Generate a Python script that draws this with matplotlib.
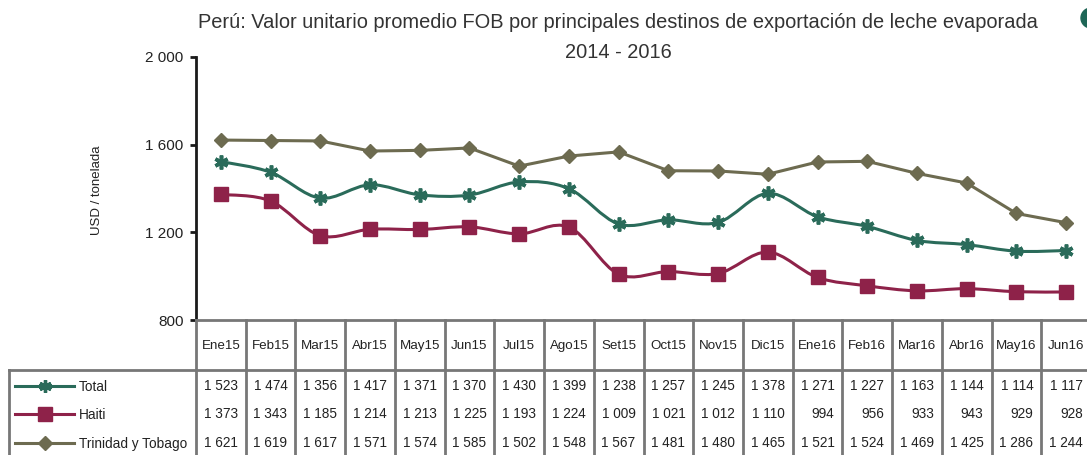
import matplotlib.pyplot as plt
from matplotlib.lines import Line2D
from matplotlib.path import Path
from matplotlib.patches import PathPatch, Ellipse
from matplotlib.transforms import blended_transform_factory

plt.rcParams["font.family"] = ["Liberation Sans", "DejaVu Sans"]

# Datos
meses = ["Ene15", "Feb15", "Mar15", "Abr15", "May15", "Jun15", "Jul15", "Ago15", "Set15",
         "Oct15", "Nov15", "Dic15", "Ene16", "Feb16", "Mar16", "Abr16", "May16", "Jun16"]
total = [1523, 1474, 1356, 1417, 1371, 1370, 1430, 1399, 1238,
         1257, 1245, 1378, 1271, 1227, 1163, 1144, 1114, 1117]
haiti = [1373, 1343, 1185, 1214, 1213, 1225, 1193, 1224, 1009,
         1021, 1012, 1110, 994, 956, 933, 943, 929, 928]
trinidad = [1621, 1619, 1617, 1571, 1574, 1585, 1502, 1548, 1567,
            1481, 1480, 1465, 1521, 1524, 1469, 1425, 1286, 1244]
series_names = ["Total", "Haiti", "Trinidad y Tobago"]
series_vals = [total, haiti, trinidad]

c_total = "#2a6b5a"
c_haiti = "#8e2249"
c_trin = "#6d6b50"
c_grid = "#777777"
c_text = "#222222"

W, H = 1087, 455


def fx(x):
    return x / W


def fy(y):
    return 1 - y / H


def smooth_path(xs, ys):
    # curva suavizada tipo Excel (Bezier por los puntos)
    n = len(xs)
    verts = [(xs[0], ys[0])]
    codes = [Path.MOVETO]
    for i in range(n - 1):
        a = i - 1 if i > 0 else i
        d = i + 2 if i + 2 < n else i + 1
        c1 = (xs[i] + (xs[i + 1] - xs[a]) / 6, ys[i] + (ys[i + 1] - ys[a]) / 6)
        c2 = (xs[i + 1] - (xs[d] - xs[i]) / 6, ys[i + 1] - (ys[d] - ys[i]) / 6)
        verts += [c1, c2, (xs[i + 1], ys[i + 1])]
        codes += [Path.CURVE4] * 3
    return Path(verts, codes)


fig = plt.figure(figsize=(W / 100, H / 100), dpi=100)
ax = fig.add_axes([fx(196), fy(320), fx(1091 - 196), (320 - 57) / H])

x = list(range(len(meses)))
asterisk = (6, 2, 0)

ax.plot(x, trinidad, color=c_trin, lw=2.2, marker="D", ms=7.5, clip_on=False)
ax.add_patch(PathPatch(smooth_path(x, total), fill=False, edgecolor=c_total, lw=2.2))
ax.plot(x, total, ls="none", marker=asterisk, ms=10, mew=2.6, color=c_total, clip_on=False)
ax.add_patch(PathPatch(smooth_path(x, haiti), fill=False, edgecolor=c_haiti, lw=2.2))
ax.plot(x, haiti, ls="none", marker="s", ms=10, color=c_haiti, clip_on=False)

ax.set_xlim(-0.5, len(meses) - 0.5)
ax.set_ylim(800, 2000)
ax.set_yticks([800, 1200, 1600, 2000])
ax.set_yticklabels(["800", "1 200", "1 600", "2 000"], fontsize=11, color=c_text)
ax.set_xticks([])
for s in ["top", "right", "bottom"]:
    ax.spines[s].set_visible(False)
ax.spines["left"].set_linewidth(2)
ax.spines["left"].set_color("#1a1a1a")
ax.tick_params(axis="y", length=4, width=2, color="#1a1a1a", pad=5)

fig.text(fx(97), fy(190), "USD / tonelada", rotation=90, ha="center", va="center",
         fontsize=9.5, color=c_text)
fig.text(fx(618), fy(22), "Perú: Valor unitario promedio FOB por principales destinos de exportación de leche evaporada",
         ha="center", va="center", fontsize=14.4, color="#333333")
fig.text(fx(618), fy(53), "2014 - 2016", ha="center", va="center", fontsize=14.4, color="#333333")

# Tabla
tr = blended_transform_factory(ax.transData, fig.transFigure)


def fline(xs, ys, **kw):
    fig.add_artist(Line2D([fx(v) for v in xs], [fy(v) for v in ys],
                          transform=fig.transFigure, **kw))


lw_t = 2
fline([196, 1091], [320, 320], color=c_grid, lw=lw_t)
fline([9, 1091], [370, 370], color=c_grid, lw=lw_t)
fline([9, 9], [370, 460], color=c_grid, lw=lw_t)
for i in range(len(meses) + 1):
    fig.add_artist(Line2D([i - 0.5, i - 0.5], [fy(320), fy(460)], transform=tr,
                          color=c_grid, lw=lw_t))
for i, m in enumerate(meses):
    fig.text(i, fy(346), m, transform=tr, ha="center", va="center", fontsize=9.6, color=c_text)

row_y = [386, 414, 443]
for vals, yy in zip(series_vals, row_y):
    for i, v in enumerate(vals):
        txt = f"{v:,}".replace(",", " ")
        fig.text(i + 0.34, fy(yy), txt, transform=tr, ha="right", va="center",
                 fontsize=9.8, color=c_text)

legend_styles = [
    (c_total, dict(marker=asterisk, ms=9, mew=2.4)),
    (c_haiti, dict(marker="s", ms=10)),
    (c_trin, dict(marker="D", ms=7)),
]
for name, (col, mk), yy in zip(series_names, legend_styles, row_y):
    fline([15, 74], [yy, yy], color=col, lw=2.2)
    fig.add_artist(Line2D([fx(45)], [fy(yy)], transform=fig.transFigure, color=col, ls="none", **mk))
    fig.text(fx(79), fy(yy + 1), name, ha="left", va="center", fontsize=9.8, color=c_text)

# punto verde cortado en la esquina
fig.add_artist(Ellipse((fx(1091), fy(18)), 20 / W, 20 / H, transform=fig.transFigure,
                       color="#1e6656"))

fig.savefig("out.png", dpi=100)
